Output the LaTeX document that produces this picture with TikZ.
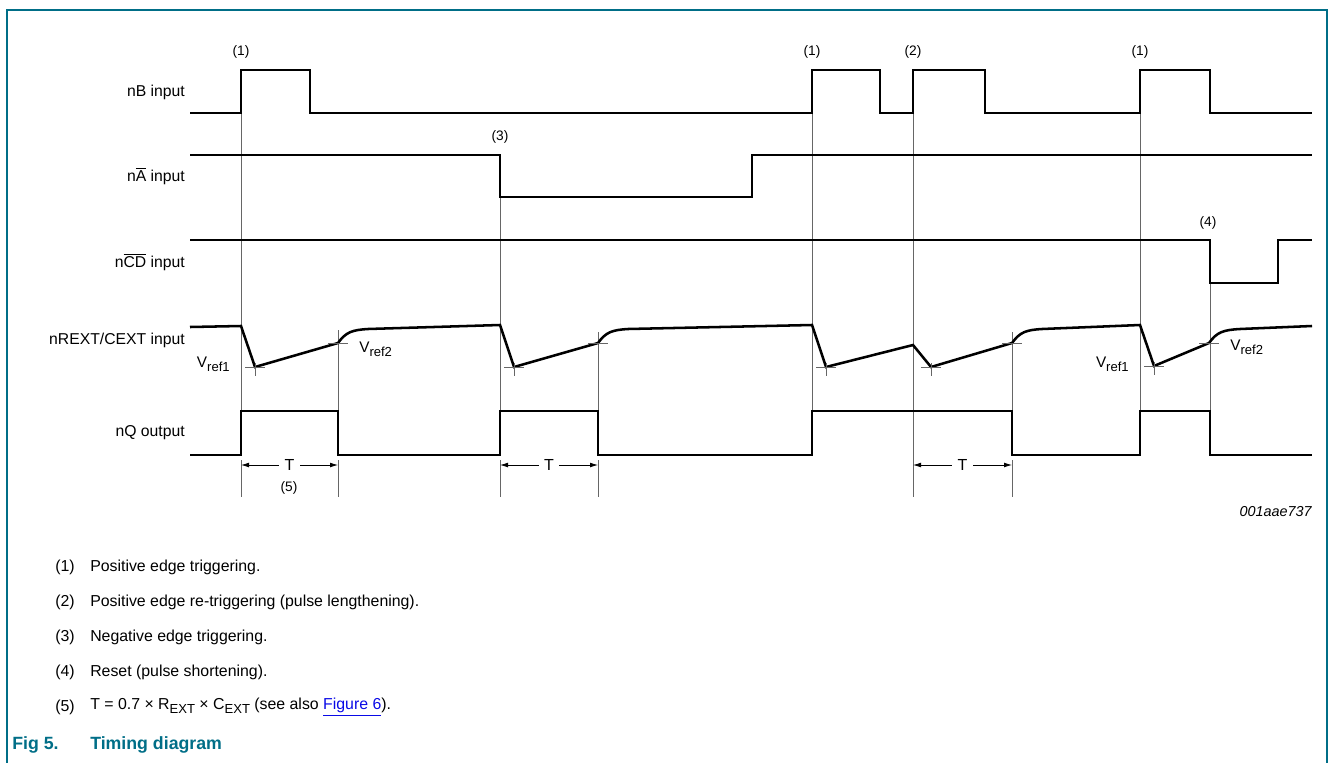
\documentclass[tikz,border=0pt]{standalone}
\usepackage{fontspec}
\setmainfont{Liberation Sans}
\usetikzlibrary{arrows.meta}
\definecolor{nxpteal}{RGB}{0,110,135}
\definecolor{linkblue}{RGB}{10,10,230}
\newcommand{\lowsub}[1]{\raisebox{-0.45ex}{\fontsize{9.8}{10}\selectfont #1}}
\tikzset{
  wave/.style={line width=1.9pt},
  guide/.style={black!60, line width=0.55pt},
  tick/.style={black!60, line width=0.55pt},
  signame/.style={anchor=east, inner sep=0pt, font=\fontsize{11.8}{13}\selectfont},
  evt/.style={inner sep=0pt, font=\fontsize{10.3}{11}\selectfont},
  vref/.style={inner sep=0pt, font=\fontsize{11.5}{13}\selectfont},
  dim/.style={black, line width=0.6pt, {Latex[length=6pt,width=3.6pt]}-{Latex[length=6pt,width=3.6pt]}},
  note/.style={anchor=west, inner sep=0pt, font=\fontsize{11.9}{13}\selectfont},
}
\begin{document}
\begin{tikzpicture}[x=0.75pt,y=-0.75pt]
  \useasboundingbox (0,0) rectangle (1330,763);
  \draw[nxpteal, line width=1.1pt] (7,763) -- (7,10) -- (1327,10) -- (1327,763);

  % signal names
  \node[signame] (lbB) at (185,92) {nB input};
  \node[signame] (lbA) at (185,176) {n$\overline{\mbox{A}}$ input};
  \node[signame] (lbCD) at (185,262) {n$\overline{\mbox{CD}}$ input};
  \node[signame] (lbR) at (185,340) {nREXT/CEXT input};
  \node[signame] (lbQ) at (185,433) {nQ output};

  % guide lines
  \draw[guide] (241,113) -- (241,411) (241,460) -- (241,497);
  \draw[guide] (338,330) -- (338,411) (338,460) -- (338,497);
  \draw[guide] (500,197) -- (500,411) (500,460) -- (500,497);
  \draw[guide] (598,332) -- (598,411) (598,460) -- (598,497);
  \draw[guide] (812,113) -- (812,411);
  \draw[guide] (913,113) -- (913,497);
  \draw[guide] (1012,332) -- (1012,411) (1012,460) -- (1012,497);
  \draw[guide] (1140,113) -- (1140,411);
  \draw[guide] (1210,283) -- (1210,411);

  % waveforms
  \draw[wave] (190,113) -| (241,70) -| (310,113) -| (812,70) -| (880,113)
      -| (913,70) -| (985,113) -| (1140,70) -| (1210,113) -- (1312,113);
  \draw[wave] (190,155) -| (500,197) -| (752,155) -- (1312,155);
  \draw[wave] (190,240) -| (1210,283) -| (1278,240) -- (1312,240);
  \draw[wave] (190,327) -- (241,326) -- (255,367) -- (338,343)
      .. controls (346,332) and (352,330) .. (368,329) -- (500,325)
      -- (514,367) -- (598,343)
      .. controls (606,332) and (612,330) .. (628,329) -- (812,325)
      -- (826,367) -- (913,345) -- (931,367) -- (1012,343)
      .. controls (1020,332) and (1026,330) .. (1042,329) -- (1140,325)
      -- (1154,366) -- (1209,343)
      .. controls (1217,332) and (1223,330) .. (1240,329) -- (1312,326);
  \draw[wave] (190,455) -| (241,411) -| (338,455) -| (500,411) -| (598,455)
      -| (812,411) -| (1012,455) -| (1140,411) -| (1210,455) -- (1312,455);

  % level ticks
  \foreach \px/\py in {255/367, 514/367, 826/367, 931/367, 1154/366}
    \draw[tick] (\px-10,\py) -- (\px+10,\py) (\px,\py-4) -- (\px,\py+9);
  \foreach \px in {338, 598, 1012, 1209}
    \draw[tick] (\px-10,343) -- (\px+10,343);

  % reference levels
  \node[vref, anchor=east] (vr1a) at (230,364) {V\lowsub{ref1}};
  \node[vref, anchor=west] (vr2a) at (359,349) {V\lowsub{ref2}};
  \node[vref, anchor=east] (vr1b) at (1129,364) {V\lowsub{ref1}};
  \node[vref, anchor=west] (vr2b) at (1230,347) {V\lowsub{ref2}};

  % events
  \node[evt] (ev1a) at (241,52) {(1)};
  \node[evt] (ev3) at (500,137) {(3)};
  \node[evt] (ev1b) at (812,52) {(1)};
  \node[evt] (ev2) at (913,52) {(2)};
  \node[evt] (ev1c) at (1140,52) {(1)};
  \node[evt] (ev4) at (1208,223) {(4)};

  % pulse widths
  \draw[dim] (241,465) -- (338,465) node[midway, fill=white, inner xsep=4pt, inner ysep=1pt, font=\fontsize{12}{13}\selectfont] (tw1) {T};
  \draw[dim] (500,465) -- (598,465) node[midway, fill=white, inner xsep=4pt, inner ysep=1pt, font=\fontsize{12}{13}\selectfont] (tw2) {T};
  \draw[dim] (913,465) -- (1012,465) node[midway, fill=white, inner xsep=4pt, inner ysep=1pt, font=\fontsize{12}{13}\selectfont] (tw3) {T};
  \node[evt] (ev5) at (289,488) {(5)};
  \node[anchor=east, inner sep=0pt, font=\fontsize{10.8}{12}\selectfont\itshape] (code) at (1312,512) {001aae737};

  % notes
  \foreach \k/\txt [count=\i] in {
      1/Positive edge triggering.,
      2/Positive edge re-triggering (pulse lengthening).,
      3/Negative edge triggering.,
      4/Reset (pulse shortening).}
  {
    \node[note] (num\k) at (55,532+35*\i) {(\k)};
    \node[note] (txt\k) at (90,532+35*\i) {\txt};
  }
  \node[note] (num5) at (55,707) {(5)};
  \node[note] (txt5) at (90,707) {T = 0.7 × R\lowsub{EXT} × C\lowsub{EXT} (see also \textcolor{linkblue}{\underline{Figure 6}}).};

  % caption
  \node[note, text=nxpteal, font=\fontsize{13.3}{15}\selectfont\bfseries] (capnum) at (12,745) {Fig 5.};
  \node[note, text=nxpteal, font=\fontsize{13.3}{15}\selectfont\bfseries] (captxt) at (90,745) {Timing diagram};
\end{tikzpicture}
\end{document}
